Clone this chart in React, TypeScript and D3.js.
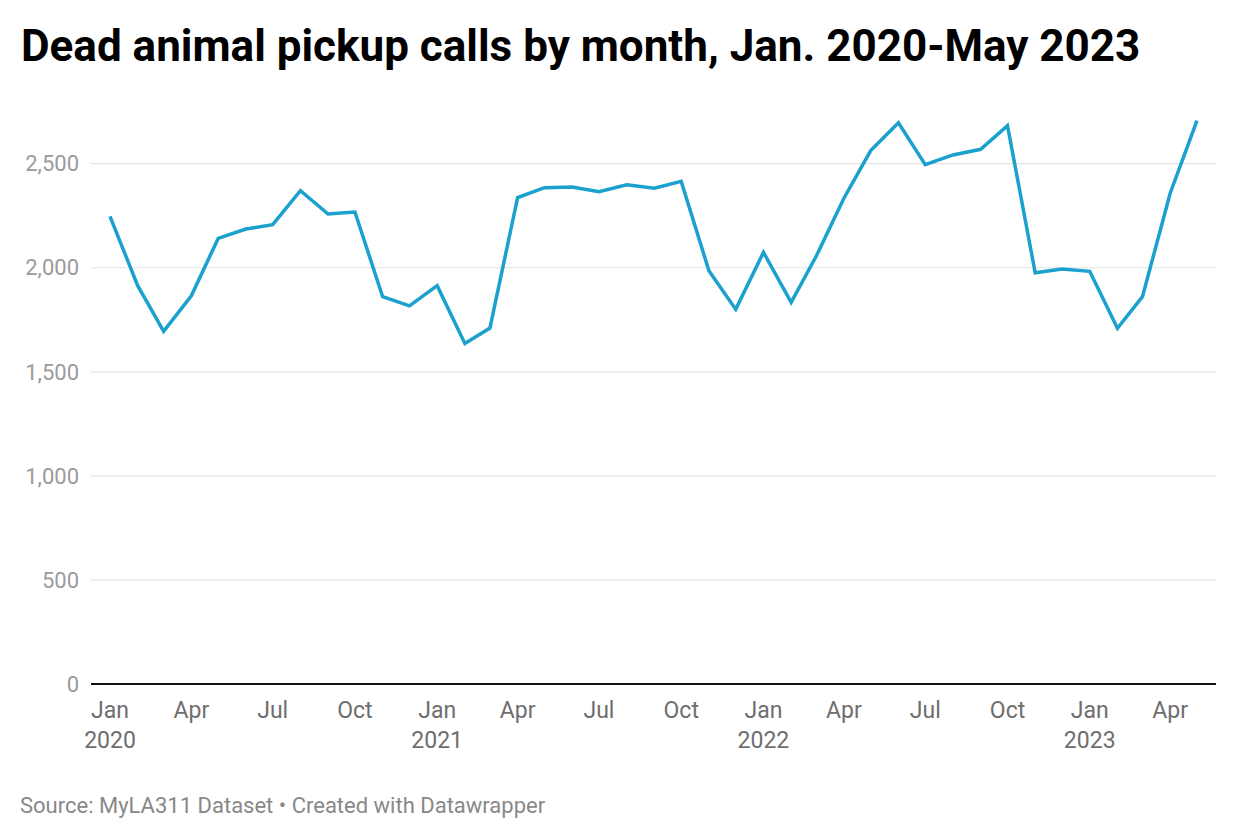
import React from "react";
import * as d3 from "d3";

// monthly dead animal pickup calls, Jan 2020 - May 2023
const months: string[] = [
  "2020-01", "2020-02", "2020-03", "2020-04", "2020-05", "2020-06",
  "2020-07", "2020-08", "2020-09", "2020-10", "2020-11", "2020-12",
  "2021-01", "2021-02", "2021-03", "2021-04", "2021-05", "2021-06",
  "2021-07", "2021-08", "2021-09", "2021-10", "2021-11", "2021-12",
  "2022-01", "2022-02", "2022-03", "2022-04", "2022-05", "2022-06",
  "2022-07", "2022-08", "2022-09", "2022-10", "2022-11", "2022-12",
  "2023-01", "2023-02", "2023-03", "2023-04", "2023-05",
];

const calls: number[] = [
  2247, 1914, 1694, 1865, 2141, 2186, 2207, 2370, 2258, 2268, 1861, 1817,
  1914, 1636, 1710, 2337, 2385, 2388, 2365, 2399, 2382, 2415, 1986, 1800,
  2074, 1834, 2055, 2334, 2563, 2697, 2495, 2542, 2569, 2683, 1976, 1994,
  1983, 1709, 1861, 2358, 2707,
];

const yTicks: number[] = [0, 500, 1000, 1500, 2000, 2500];
const xTickMonths: string[] = [
  "2020-01", "2020-04", "2020-07", "2020-10",
  "2021-01", "2021-04", "2021-07", "2021-10",
  "2022-01", "2022-04", "2022-07", "2022-10",
  "2023-01", "2023-04",
];

const title = "Dead animal pickup calls by month, Jan. 2020-May 2023";
const source = "Source: MyLA311 Dataset • Created with Datawrapper";

const W = 1240;
const H = 840;
const FONT = "Roboto, 'Noto Sans', sans-serif";

const parse = d3.timeParse("%Y-%m");

export default function App() {
  const data = months.map((m, i) => ({ date: parse(m) as Date, value: calls[i] }));

  const x = d3
    .scaleTime()
    .domain([data[0].date, data[data.length - 1].date])
    .range([110, 1197]);

  const y = d3.scaleLinear().domain([0, 2500]).range([684, 163.7]);

  const line = d3
    .line<{ date: Date; value: number }>()
    .x((d) => x(d.date))
    .y((d) => y(d.value));

  const fmt = d3.format(",");
  const monthFmt = d3.timeFormat("%b");
  const yearFmt = d3.timeFormat("%Y");

  return (
    <svg
      width={W}
      height={H}
      style={{ position: "absolute", left: 0, top: 0, background: "#fff" }}
      fontFamily={FONT}
    >
      <text x={21} y={61} fontSize={44} fontWeight={700} fill="#000">
        {title}
      </text>

      {yTicks.map((t) => (
        <g key={t}>
          {t > 0 && (
            <line x1={91} x2={1216} y1={y(t)} y2={y(t)} stroke="#e3e3e3" strokeWidth={1.2} />
          )}
          <text
            x={79}
            y={y(t)}
            dy="0.35em"
            textAnchor="end"
            fontSize={22}
            fill="#9a9a9a"
          >
            {fmt(t)}
          </text>
        </g>
      ))}

      <line x1={91} x2={1216} y1={y(0)} y2={y(0)} stroke="#111" strokeWidth={2} />

      {xTickMonths.map((m) => {
        const d = parse(m) as Date;
        const isJan = d.getMonth() === 0;
        return (
          <g key={m} transform={`translate(${x(d)},0)`}>
            <text y={718} textAnchor="middle" fontSize={23} fill="#6e6e6e">
              {monthFmt(d)}
            </text>
            {isJan && (
              <text y={748} textAnchor="middle" fontSize={23} fill="#6e6e6e">
                {yearFmt(d)}
              </text>
            )}
          </g>
        );
      })}

      <path
        d={line(data) || ""}
        fill="none"
        stroke="#1aa1ce"
        strokeWidth={3.5}
        strokeLinejoin="miter"
      />

      <text x={20} y={813} fontSize={22} fill="#888">
        {source}
      </text>
    </svg>
  );
}
